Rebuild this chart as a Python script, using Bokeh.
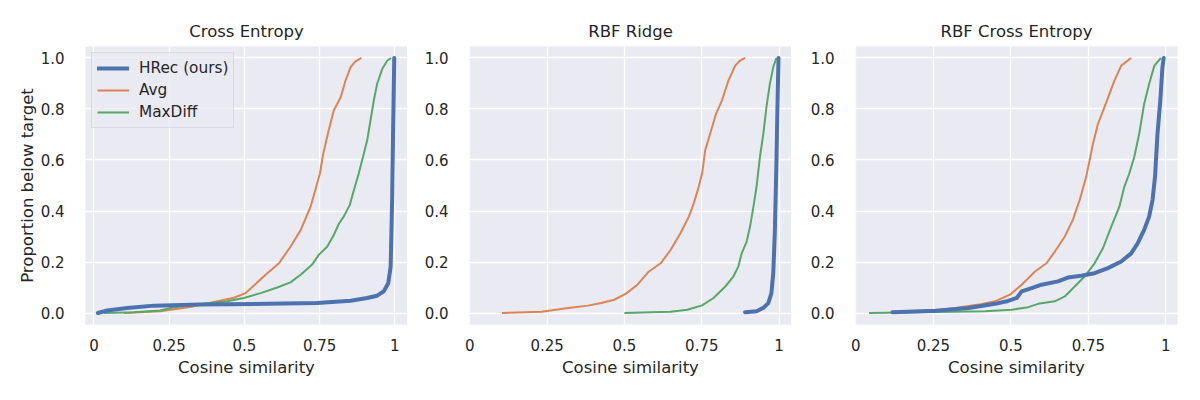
from bokeh.plotting import figure
from bokeh.layouts import row
from bokeh.models import FixedTicker, Range1d, PrintfTickFormatter
from bokeh.embed import file_html
from bokeh.resources import INLINE

# ---------------- data ----------------
titles = ["Cross Entropy", "RBF Ridge", "RBF Cross Entropy"]
series_names = ["HRec (ours)", "Avg", "MaxDiff"]
x_ticks = [0, 0.25, 0.5, 0.75, 1]
x_tick_labels = ["0", "0.25", "0.5", "0.75", "1"]
y_ticks = [0.0, 0.2, 0.4, 0.6, 0.8, 1.0]

# Panel 1: Cross Entropy
ce_hrec_x = [0.013, 0.044, 0.11, 0.2, 0.354, 0.576, 0.742, 0.853, 0.908, 0.941, 0.963, 0.978, 0.986, 0.991, 0.994, 0.998]
ce_hrec_y = [0.0, 0.01, 0.02, 0.029, 0.033, 0.036, 0.039, 0.048, 0.059, 0.068, 0.085, 0.117, 0.182, 0.443, 0.703, 1.0]
ce_avg_x = [0.1, 0.22, 0.33, 0.465, 0.504, 0.576, 0.615, 0.653, 0.687, 0.72, 0.751, 0.762, 0.78, 0.797, 0.82, 0.836, 0.853, 0.869, 0.889]
ce_avg_y = [0.0, 0.007, 0.026, 0.06, 0.078, 0.156, 0.195, 0.26, 0.325, 0.417, 0.547, 0.625, 0.716, 0.794, 0.846, 0.911, 0.964, 0.987, 1.0]
ce_md_x = [0.033, 0.133, 0.22, 0.266, 0.354, 0.443, 0.498, 0.554, 0.609, 0.653, 0.687, 0.725, 0.747, 0.775, 0.797, 0.814, 0.83, 0.85, 0.864, 0.88, 0.897, 0.908, 0.919, 0.93, 0.941, 0.958, 0.975, 0.988]
ce_md_y = [0.0, 0.003, 0.01, 0.023, 0.035, 0.046, 0.059, 0.078, 0.1, 0.12, 0.15, 0.19, 0.228, 0.26, 0.306, 0.35, 0.378, 0.423, 0.482, 0.547, 0.625, 0.677, 0.755, 0.833, 0.898, 0.957, 0.99, 1.0]

# Panel 2: RBF Ridge
rr_hrec_x = [0.89, 0.927, 0.949, 0.965, 0.975, 0.981, 0.986, 0.991, 0.995, 0.998]
rr_hrec_y = [0.003, 0.007, 0.02, 0.039, 0.078, 0.156, 0.3125, 0.573, 0.833, 1.0]
rr_avg_x = [0.104, 0.232, 0.318, 0.382, 0.425, 0.467, 0.505, 0.542, 0.579, 0.617, 0.649, 0.681, 0.708, 0.724, 0.74, 0.751, 0.761, 0.777, 0.796, 0.815, 0.836, 0.858, 0.874, 0.89]
rr_avg_y = [0.0, 0.005, 0.02, 0.029, 0.039, 0.052, 0.076, 0.111, 0.163, 0.195, 0.247, 0.3125, 0.378, 0.43, 0.495, 0.547, 0.638, 0.703, 0.781, 0.833, 0.911, 0.97, 0.99, 1.0]
rr_md_x = [0.5, 0.585, 0.649, 0.703, 0.751, 0.788, 0.826, 0.852, 0.868, 0.879, 0.895, 0.906, 0.917, 0.927, 0.938, 0.949, 0.959, 0.97, 0.981, 0.991]
rr_md_y = [0.0, 0.003, 0.005, 0.013, 0.03, 0.059, 0.104, 0.143, 0.182, 0.234, 0.28, 0.339, 0.417, 0.495, 0.612, 0.703, 0.807, 0.898, 0.964, 1.0]

# Panel 3: RBF Cross Entropy
rc_hrec_x = [0.118, 0.257, 0.364, 0.449, 0.487, 0.519, 0.535, 0.567, 0.599, 0.652, 0.684, 0.727, 0.77, 0.813, 0.856, 0.888, 0.909, 0.93, 0.946, 0.957, 0.965, 0.973, 0.982, 0.989, 0.993]
rc_hrec_y = [0.003, 0.009, 0.02, 0.036, 0.046, 0.059, 0.085, 0.098, 0.111, 0.124, 0.139, 0.146, 0.156, 0.176, 0.202, 0.234, 0.273, 0.326, 0.378, 0.443, 0.534, 0.703, 0.833, 0.964, 1.0]
rc_avg_x = [0.12, 0.257, 0.321, 0.396, 0.449, 0.497, 0.535, 0.578, 0.615, 0.642, 0.674, 0.7, 0.722, 0.743, 0.754, 0.765, 0.781, 0.802, 0.818, 0.834, 0.856, 0.888]
rc_avg_y = [0.0, 0.01, 0.02, 0.033, 0.046, 0.072, 0.111, 0.163, 0.195, 0.241, 0.3, 0.365, 0.443, 0.534, 0.599, 0.664, 0.742, 0.807, 0.859, 0.911, 0.97, 1.0]
rc_md_x = [0.043, 0.257, 0.417, 0.503, 0.556, 0.588, 0.642, 0.674, 0.706, 0.738, 0.77, 0.797, 0.824, 0.85, 0.866, 0.882, 0.898, 0.914, 0.93, 0.946, 0.963, 0.984]
rc_md_y = [0.0, 0.004, 0.007, 0.013, 0.023, 0.036, 0.046, 0.065, 0.104, 0.143, 0.195, 0.254, 0.339, 0.417, 0.495, 0.547, 0.612, 0.703, 0.82, 0.898, 0.97, 1.0]

panels = [
    [(ce_hrec_x, ce_hrec_y), (ce_avg_x, ce_avg_y), (ce_md_x, ce_md_y)],
    [(rr_hrec_x, rr_hrec_y), (rr_avg_x, rr_avg_y), (rr_md_x, rr_md_y)],
    [(rc_hrec_x, rc_hrec_y), (rc_avg_x, rc_avg_y), (rc_md_x, rc_md_y)],
]

# ---------------- style ----------------
colors = ["#4C72B0", "#DD8452", "#55A868"]
widths = [4, 2, 2]
FONT = "DejaVu Sans"
TXT = "#262626"
BG = "#EAEAF2"

x_ranges = [(-0.028, 1.042), (-0.001, 1.04), (-0.001, 1.0375)]
left_borders = [85, 62, 64]
right_borders = [0, 0, 12]

figs = []
for i in range(3):
    p = figure(
        output_backend="svg", toolbar_location=None,
        frame_width=322, frame_height=278,
        min_border_left=left_borders[i], min_border_right=right_borders[i],
        min_border_top=46, min_border_bottom=54,
        x_range=Range1d(*x_ranges[i]), y_range=Range1d(-0.045, 1.045),
        title=titles[i],
    )
    p.background_fill_color = BG
    p.border_fill_color = "white"
    p.outline_line_color = None
    p.title.align = "center"
    p.title.text_font = FONT
    p.title.text_font_size = "16.5px"
    p.title.text_font_style = "normal"
    p.title.text_color = TXT
    p.title.standoff = 12

    p.xgrid.grid_line_color = "white"
    p.ygrid.grid_line_color = "white"
    p.xgrid.grid_line_width = 1.3
    p.ygrid.grid_line_width = 1.3

    for ax in (p.xaxis, p.yaxis):
        ax.axis_line_color = None
        ax.major_tick_line_color = None
        ax.minor_tick_line_color = None
        ax.major_label_text_font = FONT
        ax.major_label_text_font_size = "15px"
        ax.major_label_text_color = TXT
        ax.axis_label_text_font = FONT
        ax.axis_label_text_font_size = "16.5px"
        ax.axis_label_text_font_style = "normal"
        ax.axis_label_text_color = TXT

    p.xaxis.ticker = FixedTicker(ticks=x_ticks)
    p.xaxis.major_label_overrides = {t: l for t, l in zip(x_ticks, x_tick_labels)}
    p.xaxis.major_label_standoff = 8
    p.xaxis.axis_label = "Cosine similarity"
    p.xaxis.axis_label_standoff = 4
    p.yaxis.ticker = FixedTicker(ticks=y_ticks)
    p.yaxis.formatter = PrintfTickFormatter(format="%.1f")
    p.yaxis.major_label_standoff = 15
    if i == 0:
        p.yaxis.axis_label = "Proportion below target"
        p.yaxis.axis_label_standoff = 1

    # draw thin lines first, thick HRec on top
    order = [1, 2, 0]
    for k in order:
        xs, ys = panels[i][k]
        kw = dict(line_color=colors[k], line_width=widths[k], line_join="round",
                  line_cap="round" if k == 0 else "butt")
        if i == 0:
            kw["legend_label"] = series_names[k]
        p.line(xs, ys, **kw)

    if i == 0:
        lg = p.legend[0]
        items = {it.label.value: it for it in lg.items}
        lg.items = [items[n] for n in series_names]
        lg.location = "top_left"
        lg.margin = 6
        lg.padding = 5
        lg.spacing = 2
        lg.glyph_width = 32
        lg.glyph_height = 20
        lg.label_height = 20
        lg.label_standoff = 10
        lg.label_text_font = FONT
        lg.label_text_font_size = "15.3px"
        lg.label_text_color = TXT
        lg.background_fill_color = BG
        lg.background_fill_alpha = 0.8
        lg.border_line_color = "#CCCCCC"
        lg.border_line_width = 1
    figs.append(p)

layout = row(*figs)
open("out.html", "w").write(file_html(layout, INLINE))
